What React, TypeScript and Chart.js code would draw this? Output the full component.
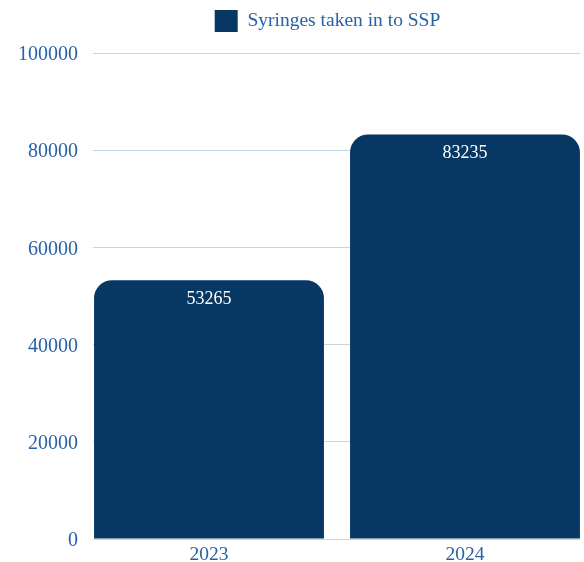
import React, { useEffect, useRef } from "react";
import { Chart, registerables } from "chart.js";

Chart.register(...registerables);

const categories = ["2023", "2024"];
const seriesLabel = "Syringes taken in to SSP";
const seriesValues = [53265, 83235];
const yTicks = [0, 20000, 40000, 60000, 80000, 100000];

const BAR = "#073763";
const TEXT = "#2762a8";
const GRID = "#c8d6e4";
const FONT = "'Liberation Serif', serif";

const valueLabels = {
  id: "valueLabels",
  afterDatasetsDraw(chart: any) {
    const ctx = chart.ctx;
    const meta = chart.getDatasetMeta(0);
    ctx.save();
    ctx.fillStyle = "#ffffff";
    ctx.font = `18px ${FONT}`;
    ctx.textAlign = "center";
    ctx.textBaseline = "middle";
    meta.data.forEach((bar: any, i: number) => {
      ctx.fillText(String(chart.data.datasets[0].data[i]), bar.x, bar.y + 19);
    });
    ctx.restore();
  },
};

const layoutTweak = {
  id: "layoutTweak",
  beforeUpdate(chart: any) {
    const lg = chart.legend;
    if (lg && !lg.__patched) {
      const orig = lg.fit;
      lg.fit = function () {
        orig.call(this);
        this.height += 11;
      };
      lg.__patched = true;
    }
  },
  afterLayout(chart: any) {
    const lg = chart.legend;
    if (lg) {
      lg.left -= 9;
      lg.right -= 9;
    }
    const x = chart.scales.x;
    if (x) {
      x.left -= 12;
      x.right += 13;
      x.width = x.right - x.left;
      x.configure();
    }
  },
};

export default function App() {
  const ref = useRef<HTMLCanvasElement | null>(null);
  useEffect(() => {
    if (!ref.current) return;
    const chart = new Chart(ref.current, {
      type: "bar",
      data: {
        labels: categories,
        datasets: [
          {
            label: seriesLabel,
            data: seriesValues,
            backgroundColor: BAR,
            borderRadius: { topLeft: 18, topRight: 18, bottomLeft: 0, bottomRight: 0 },
            borderSkipped: false,
            barPercentage: 0.898,
            categoryPercentage: 1,
          },
        ],
      },
      options: {
        animation: false,
        responsive: false,
        layout: { padding: { left: 0, right: 4, top: 0, bottom: 0 } },
        plugins: {
          legend: {
            display: true,
            fullSize: false,
            labels: {
              boxWidth: 23,
              boxHeight: 22,
              color: TEXT,
              font: { family: FONT, size: 19.5 },
            },
          },
          tooltip: { enabled: false },
        },
        scales: {
          x: {
            grid: { display: false },
            border: { display: false },
            ticks: { color: TEXT, font: { family: FONT, size: 19.5 }, padding: -4 },
            afterFit(scale: any) {
              scale.height = 23;
              scale.paddingLeft = 0;
              scale.paddingRight = 0;
            },
          },
          y: {
            min: 0,
            max: 100000,
            afterBuildTicks(scale: any) {
              scale.ticks = yTicks.map((v) => ({ value: v }));
            },
            grid: { color: GRID, drawTicks: false },
            border: { display: false },
            ticks: {
              color: TEXT,
              font: { family: FONT, size: 20 },
              padding: 15,
              labelOffset: 2,
              callback: (v: any) => String(v),
            },
            afterFit(scale: any) {
              scale.width = 93;
              scale.paddingTop = 0;
              scale.paddingBottom = 0;
            },
          },
        },
      },
      plugins: [valueLabels, layoutTweak],
    });
    return () => chart.destroy();
  }, []);
  return (
    <div style={{ position: "absolute", left: 0, top: 0, width: 584, height: 562 }}>
      <canvas ref={ref} width={584} height={562} style={{ display: "block" }} />
    </div>
  );
}
